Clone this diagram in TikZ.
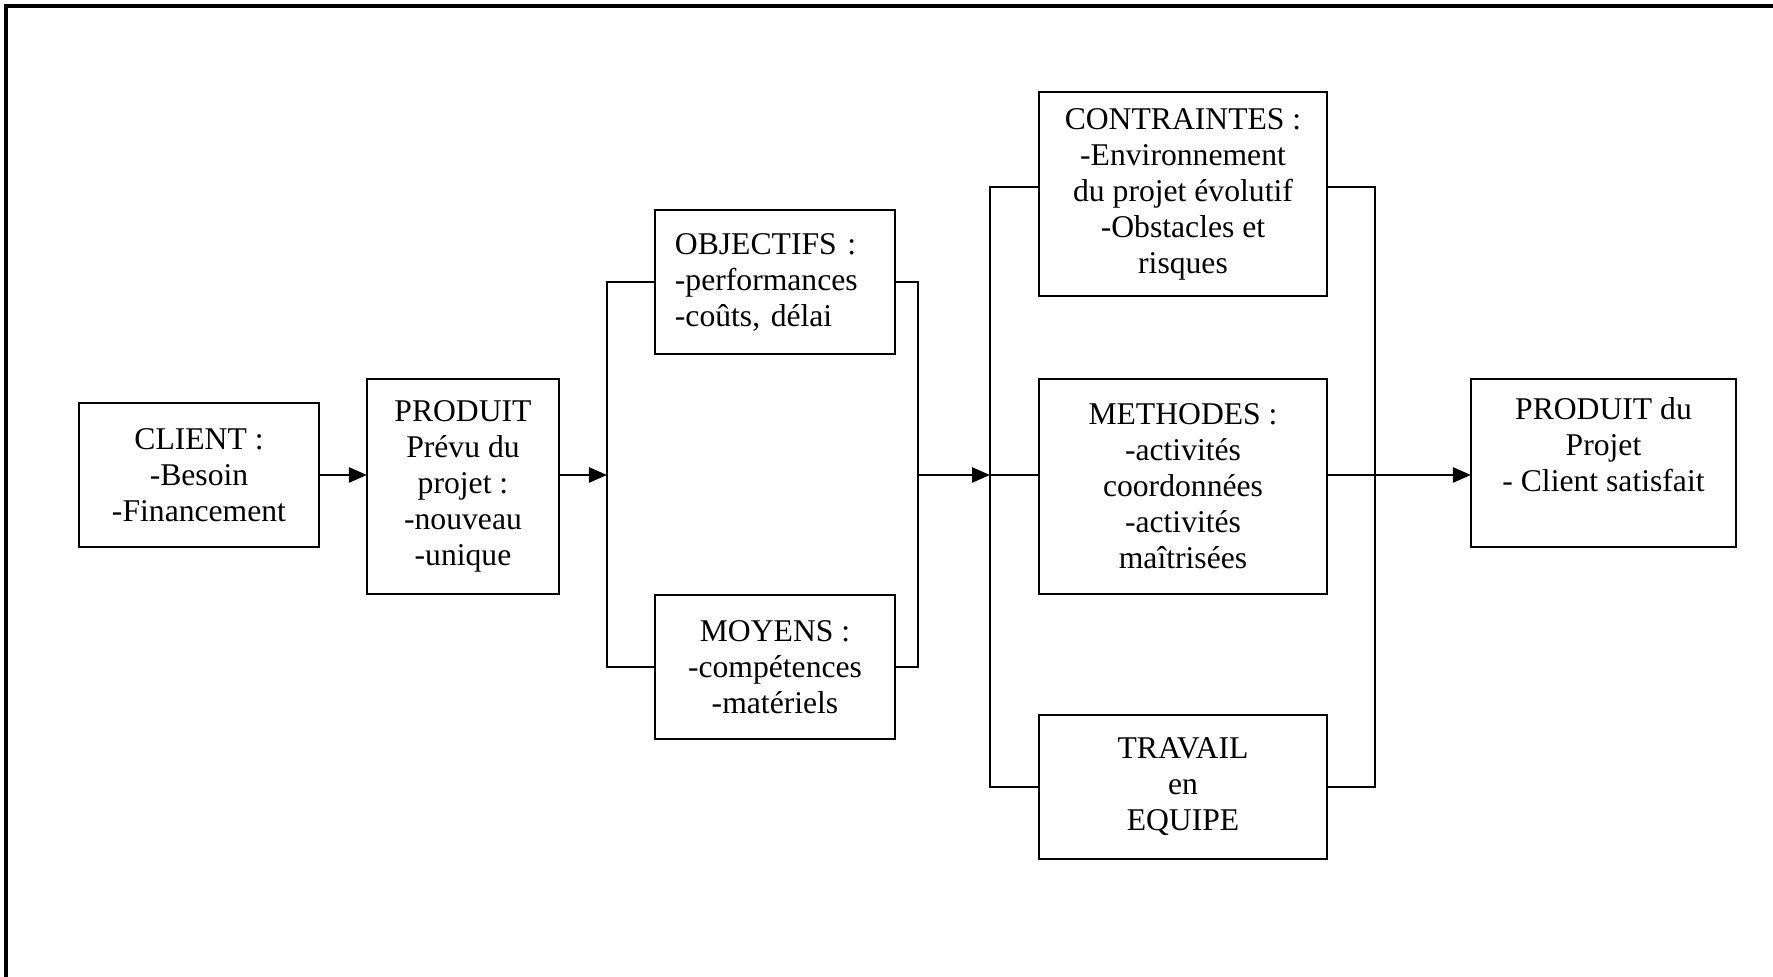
\documentclass[tikz,border=0pt]{standalone}
\usepackage{fontspec}
\setmainfont{Liberation Serif}
\usetikzlibrary{arrows.meta}
\begin{document}
\begin{tikzpicture}[x=0.01cm,y=-0.01cm,
 box/.style={draw, line width=0.55pt, inner sep=0pt, outer sep=0pt, align=center, font=\fontsize{9}{10.24}\selectfont},
 conn/.style={line width=0.7pt},
 arr/.style={conn,-{Triangle[length=0.18cm,width=0.15cm]}},
 frameline/.style={line width=1pt}]
\useasboundingbox (0,0) rectangle (1773,977);
\draw[frameline] (6,977) -- (6,6) -- (1773,6);

\node[box, minimum width=2.40cm, minimum height=1.44cm] (client) at (199,475) {CLIENT :\\-Besoin\\-Financement};
\node[box, minimum width=1.92cm, minimum height=2.15cm] (produit) at (463,486.5) {PRODUIT\\Prévu du\\projet :\\-nouveau\\-unique};
\node[box, minimum width=2.40cm, minimum height=1.44cm, text width=2.0cm, align=left] (objectifs) at (775,282) {OBJECTIFS :\\-performances\\-coûts, délai};
\node[box, minimum width=2.40cm, minimum height=1.44cm] (moyens) at (775,667) {MOYENS :\\-compétences\\-matériels};
\node[box, minimum width=2.88cm, minimum height=2.04cm] (contraintes) at (1183,194) {CONTRAINTES :\\-Environnement\\du projet évolutif\\-Obstacles et\\risques};
\node[box, minimum width=2.88cm, minimum height=2.15cm] (methodes) at (1183,486.5) {METHODES :\\-activités\\coordonnées\\-activités\\maîtrisées};
\node[box, minimum width=2.88cm, minimum height=1.44cm] (travail) at (1183,787) {TRAVAIL\\en\\EQUIPE};
\node[box, minimum width=2.65cm, minimum height=1.68cm] (final) at (1603.5,463) {PRODUIT du\\Projet\\- Client satisfait\\\mbox{}};

\coordinate (b1) at (607,475);
\coordinate (b2) at (918,475);
\coordinate (b3) at (990,475);
\coordinate (b4) at (1375,475);
\coordinate (c3t) at (990,187);

\draw[arr] (client.east) -- (client.east -| produit.west);
\draw[arr] (produit.east |- b1) -- (b1);
\draw[conn] (objectifs.west) -| (b1 |- moyens.west) -- (moyens.west);
\draw[conn] (objectifs.east) -| (b2 |- moyens.east) -- (moyens.east);
\draw[arr] (b2) -- (b3);
\draw[conn] (contraintes.west |- c3t) -| (b3 |- travail.west) -- (travail.west);
\draw[conn] (b3) -- (b3 -| methodes.west);
\draw[conn] (contraintes.east |- c3t) -| (b4 |- travail.east) -- (travail.east);
\draw[arr] (methodes.east |- b4) -- (b4 -| final.west);
\end{tikzpicture}
\end{document}
